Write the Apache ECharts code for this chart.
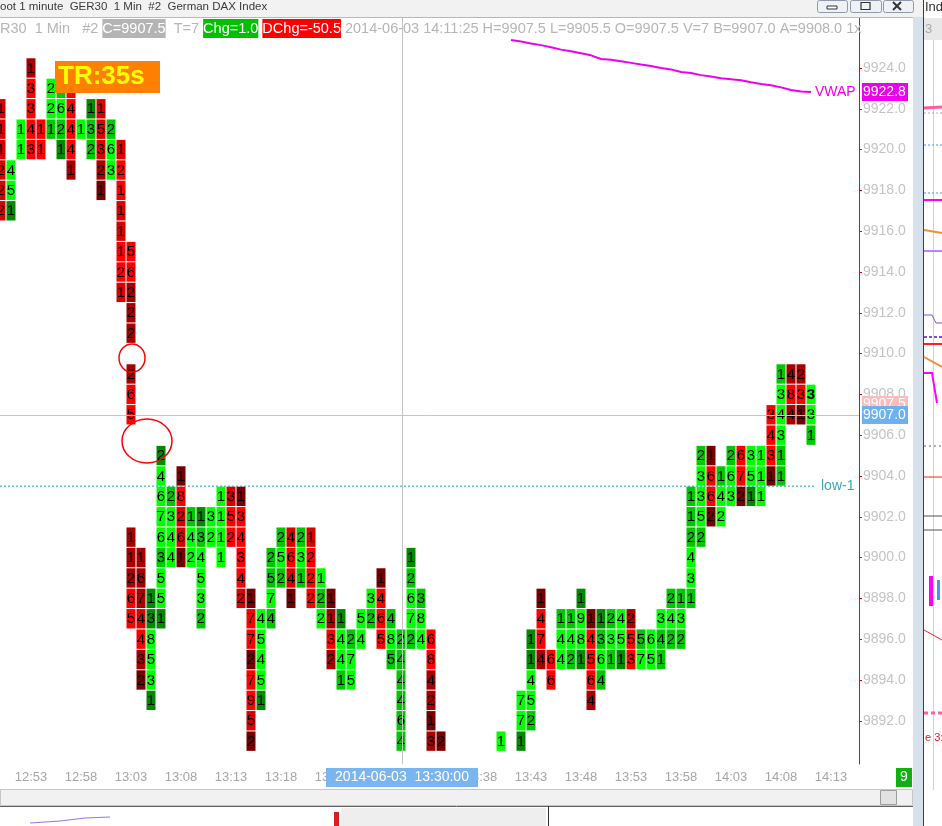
<!DOCTYPE html>
<html><head><meta charset="utf-8">
<script src="https://cdn.jsdelivr.net/npm/echarts@6/dist/echarts.min.js"></script>
<style>html,body{margin:0;padding:0;background:#fff;overflow:hidden}#c{width:942px;height:826px}</style>
</head><body><div id="c"></div>
<script>
// ---------- data ----------
const colTime = ['12:50','12:51','12:52','12:53','12:54','12:55','12:56','12:57','12:58','12:59',
  '13:00','13:01','13:02','13:03','13:04','13:05','13:06','13:07','13:08','13:09',
  '13:10','13:11','13:12','13:13','13:14','13:15','13:16','13:17','13:18','13:19',
  '13:20','13:21','13:22','13:23','13:24','13:25','13:26','13:27','13:28','13:29',
  '13:30','13:31','13:32','13:33','13:34','13:40','13:42','13:43','13:44','13:45',
  '13:46','13:47','13:48','13:49','13:50','13:51','13:52','13:53','13:54','13:55',
  '13:56','13:57','13:58','13:59','14:00','14:01','14:02','14:03','14:04','14:05',
  '14:06','14:07','14:08','14:09','14:10','14:11'];
const colTop = [9922,9919,9921,9924,9921,9923,9923,9923,9921,9922,
  9922,9921,9920,9915,9900,9898,9905,9903,9904,9902,
  9902,9902,9903,9903,9903,9898,9897,9900,9901,9901,
  9901,9901,9899,9898,9897,9896,9897,9898,9899,9897,
  9896,9900,9898,9896,9891,9891,9893,9896,9898,9895,
  9897,9897,9898,9897,9897,9897,9897,9897,9896,9896,
  9897,9898,9898,9903,9905,9905,9904,9905,9905,9905,
  9905,9907,9909,9909,9909,9908];
// one digit per price row (1.0 pt), top row first; '.' = no trade at that price
const colVolume = ['111222','451','11','13343','11','221','3621','14441','1','132',
  '15321','263','12111121','56222.265.....11265','1674432','138531','246763551','2344','18261','142',
  '134532','32','1111','352','134342','17727952','45451','2574','252','4641',
  '231','1222','122','1132','1441','275','54','32','1465','485',
  '244464','12672','384','684213','2','1','771','11452','1474','66',
  '144','142','1981','14564','1364','231','451','253','57','65',
  '341','242','132','112431','23352','1662','142','263','672','351',
  '111','3431','134311','484','231','331'];
const colShade = ['rrrrrr','GGe','GG','dRRRR','RR','GGg','gGge','RRRRd','G','egg',
  'rrrdD','gGG','rRRrrRRr','RRddd.dRR.....dddRR','dddrRdD','eeGGGe','eGGGGgGGe','gGGG','DRrrD','gGG',
  'egGGGg','GG','GGGG','rRR','DRRRRr','DRRDRRrD','GGGGe','ggGg','gGg','rRrD',
  'gGg','rRRR','GgG','DdRd','eGGg','gGG','GG','Gg','DRRR','gGg',
  'gggggg','egGGg','gGG','RRddDd','D','G','GGe','eeGGg','DRRd','RR',
  'gGG','gGg','eGGe','DRRRd','egGg','gGg','GGe','dRR','gG','GG',
  'Ggg','gGg','gGg','gggGGg','gGGGg','DRRD','gGG','gGG','RRD','GGe',
  'GGG','RRRD','gGGGgg','dRd','dRD','GGg'];
const boldCell = {time:'14:11', price:9908};
const vwapTime = ['13:41','13:42','13:43','13:44','13:45','13:46','13:47','13:48','13:49','13:50',
  '13:51','13:52','13:53','13:54','13:55','13:56','13:57','13:58','13:59','14:00',
  '14:01','14:02','14:03','14:04','14:05','14:06','14:07','14:08','14:09','14:10','14:11'];
const vwapValue = [9925.37,9925.30,9925.20,9925.12,9925.02,9924.90,9924.82,9924.72,9924.62,9924.44,
  9924.40,9924.33,9924.25,9924.17,9924.10,9924.00,9923.93,9923.80,9923.75,9923.65,
  9923.58,9923.50,9923.45,9923.40,9923.30,9923.22,9923.15,9923.05,9922.92,9922.85,9922.82];
const xLabelTimes = ['12:53','12:58','13:03','13:08','13:13','13:18','13:23','13:28','13:33','13:38',
  '13:43','13:48','13:53','13:58','14:03','14:08','14:13'];
const yTickValues = [9892,9894,9896,9898,9900,9902,9904,9906,9908,9910,9912,9914,9916,9918,9920,9922,9924];
const lowLevel = 9903.5;
const crossPrice = 9907.0;
const crossTime = '13:30';
const priceTagValues = [9922.8, 9907.5, 9907.0];
const priceTagColors = ['#ee00ee', '#ffbcbc', '#6db1f5'];

// ---------- helpers ----------
const T0 = 12*60+50;
const toIdx = t => { const p = t.split(':').map(Number); return p[0]*60+p[1]-T0; };
const idxToTime = k => { const m = T0 + Math.round(k); return String(Math.floor(m/60)).padStart(2,'0')+':'+String(m%60).padStart(2,'0'); };
const shadeColors = {R:'#ff0000', r:'#d80000', d:'#a80000', D:'#760000', G:'#00ff00', g:'#00c800', e:'#008a00'};

const cells = [];
colTime.forEach((t, i) => {
  const k = toIdx(t);
  const vol = colVolume[i], sh = colShade[i];
  for (let j = 0; j < vol.length; j++) {
    if (vol[j] === '.') continue;
    const price = colTop[i] - j;
    cells.push({k, price, text: vol[j], color: shadeColors[sh[j]],
      bold: t === boldCell.time && price === boldCell.price});
  }
});

const FONT = 'Liberation Sans';
const chart = echarts.init(document.getElementById('c'));
const crossX = toIdx(crossTime) + 0.1;

chart.setOption({
  animation: false,
  backgroundColor: '#ffffff',
  grid: {left: 0, right: 83, top: 18, bottom: 62},
  xAxis: {type: 'value', min: -0.1, max: 85.8,
    axisLine: {show: false, onZero: false}, axisTick: {show: false}, splitLine: {show: false},
    axisLabel: {customValues: xLabelTimes.map(toIdx), formatter: v => idxToTime(v),
      color: '#a6a6a6', fontSize: 13, fontFamily: FONT, margin: 7}},
  yAxis: {type: 'value', position: 'right', min: 9889.88, max: 9926.45, scale: true,
    axisLine: {show: true, onZero: false, lineStyle: {color: '#ff0000', width: 1}},
    axisTick: {show: true, customValues: yTickValues, length: 3, lineStyle: {color: '#ff0000'}},
    axisLabel: {customValues: yTickValues, formatter: v => v.toFixed(1), color: '#c4c4c4',
      fontSize: 14, fontFamily: FONT, margin: 4},
    splitLine: {show: false}},
  series: [
    {type: 'custom', clip: true, z: 3,
      data: cells.map(c => [c.k, c.price]),
      renderItem: (params, api) => {
        const cell = cells[params.dataIndex];
        const p = api.coord([api.value(0), api.value(1)]);
        const w = api.size([1, 0])[0];
        const h = api.size([0, 1])[1];
        return {type: 'group', children: [
          {type: 'rect', shape: {x: p[0]-w/2+0.5, y: p[1]-h/2+0.5, width: w-1, height: h-1}, style: {fill: cell.color}},
          {type: 'text', x: p[0], y: p[1]+0.5, style: {text: cell.text, fill: '#000',
            font: (cell.bold ? 'bold ' : '') + '15px ' + FONT, align: 'center', verticalAlign: 'middle'}}
        ]};
      }},
    {type: 'line', name: 'low-1', z: 4, symbol: 'none', silent: true,
      data: [[-0.1, lowLevel], [81.4, lowLevel]],
      lineStyle: {color: '#14a6b8', width: 1, type: [2, 2]},
      endLabel: {show: true, formatter: 'low-1', color: '#3aa6b8', fontSize: 14, fontFamily: FONT, distance: 6}},
    {type: 'line', name: 'VWAP', z: 5, symbol: 'none', silent: true,
      data: vwapTime.map((t, i) => [toIdx(t), vwapValue[i]]),
      lineStyle: {color: '#ee00ee', width: 2},
      endLabel: {show: true, formatter: 'VWAP', color: '#ee00ee', fontSize: 14, fontFamily: FONT, distance: 4},
      markLine: {silent: true, symbol: 'none', label: {show: false},
        lineStyle: {color: '#c4c4c4', width: 1, type: 'solid'},
        data: [{yAxis: crossPrice}, {xAxis: crossX}]}}
  ]
});

// ---------- overlays ----------
const px = v => chart.convertToPixel({xAxisIndex: 0}, v);
const py = v => chart.convertToPixel({yAxisIndex: 0}, v);
const g = [];
// title bar
g.push({type:'rect', z:50, shape:{x:0,y:0,width:942,height:17}, style:{fill:'#f2f2f2'}});
g.push({type:'line', z:50, shape:{x1:0,y1:17.5,x2:913,y2:17.5}, style:{stroke:'#b8b8b8', lineWidth:1}});
g.push({type:'text', z:51, x:0, y:1, style:{text:'oot 1 minute  GER30  1 Min  #2  German DAX Index', fill:'#3a3a3a', font:'11.5px '+FONT, verticalAlign:'top'}});
[[817,30],[850,31],[883,30]].forEach(b => g.push({type:'rect', z:51, shape:{x:b[0]+0.5,y:0.5,width:b[1],height:12,r:2}, style:{fill:'#eef1f5', stroke:'#8f99a8', lineWidth:1}}));
g.push({type:'rect', z:52, shape:{x:827,y:6,width:10,height:3}, style:{fill:'#fff', stroke:'#333', lineWidth:1}});
g.push({type:'rect', z:52, shape:{x:861,y:2.5,width:9,height:7}, style:{fill:'none', stroke:'#333', lineWidth:1.2}});
g.push({type:'polyline', z:52, shape:{points:[[893,2],[901,10]]}, style:{stroke:'#333', lineWidth:2}});
g.push({type:'polyline', z:52, shape:{points:[[901,2],[893,10]]}, style:{stroke:'#333', lineWidth:2}});
// info line
const infoFont = 14.5;
g.push({type:'text', z:51, x:0, y:19, style:{
  text:'{n|R30  1 Min   #2 }{c|C=9907.5}{n|  T=7 }{g|Chg=1.0}{n| }{r|DChg=-50.5}{n| 2014-06-03 14:11:25 H=9907.5 L=9905.5 O=9907.5 V=7 B=9907.0 A=9908.0 1x}',
  verticalAlign:'top',
  rich:{
    n:{fill:'#b6b6b6', fontSize:infoFont, fontFamily:FONT, lineHeight:19, height:19},
    c:{fill:'#ffffff', backgroundColor:'#b4b4b4', fontSize:infoFont, fontFamily:FONT, lineHeight:19, height:19},
    g:{fill:'#ffffff', backgroundColor:'#00c000', fontSize:infoFont, fontFamily:FONT, lineHeight:19, height:19},
    r:{fill:'#ffffff', backgroundColor:'#ff0000', fontSize:infoFont, fontFamily:FONT, lineHeight:19, height:19}
  }}});
// TR box
g.push({type:'rect', z:60, shape:{x:55,y:61,width:105,height:32}, style:{fill:'#ff8000'}});
g.push({type:'text', z:61, x:58, y:77, style:{text:'TR:35s', fill:'#ffff00', font:'bold 26px '+FONT, verticalAlign:'middle'}});
// hand-drawn circles
g.push({type:'ellipse', z:60, shape:{cx:132,cy:358,rx:13,ry:14}, style:{fill:'none', stroke:'#ff0000', lineWidth:1.5}});
g.push({type:'ellipse', z:60, shape:{cx:147,cy:441,rx:25,ry:22}, style:{fill:'none', stroke:'#ff0000', lineWidth:1.5}});
// price tags on the axis
priceTagValues.forEach((v, i) => {
  const y = py(v);
  g.push({type:'rect', z:70+i, shape:{x:862,y:Math.round(y-9),width:46,height:18}, style:{fill:priceTagColors[i]}});
  g.push({type:'text', z:70+i, x:863, y:y, style:{text:v.toFixed(1), fill:'#ffffff', font:'14px '+FONT, verticalAlign:'middle'}});
});
// date box on time axis
const cx = px(crossX);
g.push({type:'rect', z:70, shape:{x:Math.round(cx-76),y:768,width:152,height:19}, style:{fill:'#7bb5ef'}});
g.push({type:'text', z:71, x:cx, y:777.5, style:{text:'2014-06-03  13:30:00', fill:'#ffffff', font:'14px '+FONT, align:'center', verticalAlign:'middle'}});
// "9" box
g.push({type:'rect', z:70, shape:{x:896,y:768,width:16,height:19}, style:{fill:'#10b010'}});
g.push({type:'text', z:71, x:904, y:777.5, style:{text:'9', fill:'#ffffff', font:'14px '+FONT, align:'center', verticalAlign:'middle'}});
// bottom scrollbar & panel
g.push({type:'rect', z:50, shape:{x:0.5,y:789.5,width:912,height:16}, style:{fill:'#f1f1f1', stroke:'#c6c6c6'}});
g.push({type:'rect', z:51, shape:{x:880.5,y:790.5,width:16,height:14}, style:{fill:'#e2e2e2', stroke:'#9c9c9c'}});
g.push({type:'rect', z:50, shape:{x:0,y:806,width:913,height:20}, style:{fill:'#ffffff'}});
g.push({type:'line', z:51, shape:{x1:0,y1:806.5,x2:913,y2:806.5}, style:{stroke:'#606060'}});
g.push({type:'rect', z:51, shape:{x:341,y:808,width:205,height:18}, style:{fill:'#eeeeee'}});
g.push({type:'rect', z:51, shape:{x:334,y:812,width:5,height:14}, style:{fill:'#d82020'}});
g.push({type:'line', z:51, shape:{x1:548.5,y1:806,x2:548.5,y2:826}, style:{stroke:'#303030'}});
g.push({type:'polyline', z:51, shape:{points:[[30,823],[60,821],[85,818],[110,817]]}, style:{stroke:'#a070e0', lineWidth:1}});
// right side: border strip + neighbouring window
g.push({type:'rect', z:50, shape:{x:913,y:17,width:10,height:809}, style:{fill:'#d6e1ec'}});
g.push({type:'rect', z:50, shape:{x:923,y:0,width:19,height:826}, style:{fill:'#ffffff'}});
g.push({type:'line', z:51, shape:{x1:923.5,y1:0,x2:923.5,y2:826}, style:{stroke:'#404040'}});
g.push({type:'text', z:51, x:925, y:1, style:{text:'Ind', fill:'#303030', font:'13px '+FONT, verticalAlign:'top'}});
g.push({type:'rect', z:51, shape:{x:924,y:18,width:18,height:22}, style:{fill:'#e8e8e8'}});
g.push({type:'text', z:52, x:925, y:29, style:{text:'3', fill:'#aaaaaa', font:'13px '+FONT, verticalAlign:'middle'}});
g.push({type:'line', z:51, shape:{x1:933.5,y1:40,x2:933.5,y2:790}, style:{stroke:'#d2d2d2'}});
const sideLines = [
  [[[924,108],[942,107]], '#ff5aa0', 3, null], [[[924,113],[942,113]], '#b0b0b0', 1, [2,2]],
  [[[924,145],[942,145]], '#4a90ff', 1, [2,2]], [[[924,193],[942,193]], '#4a90ff', 1, [2,2]],
  [[[924,200],[942,200]], '#ff00ff', 2, null], [[[924,230],[936,232],[942,233]], '#f09030', 2, null],
  [[[924,251],[942,251]], '#c080ff', 2, null], [[[924,315],[932,315],[936,323],[942,323]], '#8050e0', 1, null],
  [[[924,337],[942,337]], '#8050d0', 2, [3,2]], [[[924,344],[942,344]], '#ff2020', 2, null],
  [[[924,357],[942,367]], '#f09030', 2, null], [[[924,373],[932,373],[937,403]], '#ff00ff', 2, null],
  [[[924,446],[942,446]], '#b0b0b0', 2, [2,3]], [[[924,477],[942,477]], '#ff2020', 1, null],
  [[[924,516],[942,516]], '#505050', 1, null], [[[924,530],[942,530]], '#505050', 1, null],
  [[[924,630],[942,640]], '#ff2020', 1, null], [[[924,713],[942,713]], '#ff60a0', 3, [4,3]]
];
sideLines.forEach(l => g.push({type:'polyline', z:52, shape:{points:l[0]}, style:{stroke:l[1], lineWidth:l[2], lineDash:l[3]}}));
g.push({type:'rect', z:52, shape:{x:929,y:576,width:4,height:30}, style:{fill:'#ff00ff'}});
g.push({type:'rect', z:52, shape:{x:937,y:580,width:3,height:20}, style:{fill:'#4a90ff'}});
g.push({type:'text', z:52, x:925, y:738, style:{text:'e 3:', fill:'#e02020', font:'11px '+FONT, verticalAlign:'middle'}});

chart.setOption({graphic: g});
</script>
</body></html>
